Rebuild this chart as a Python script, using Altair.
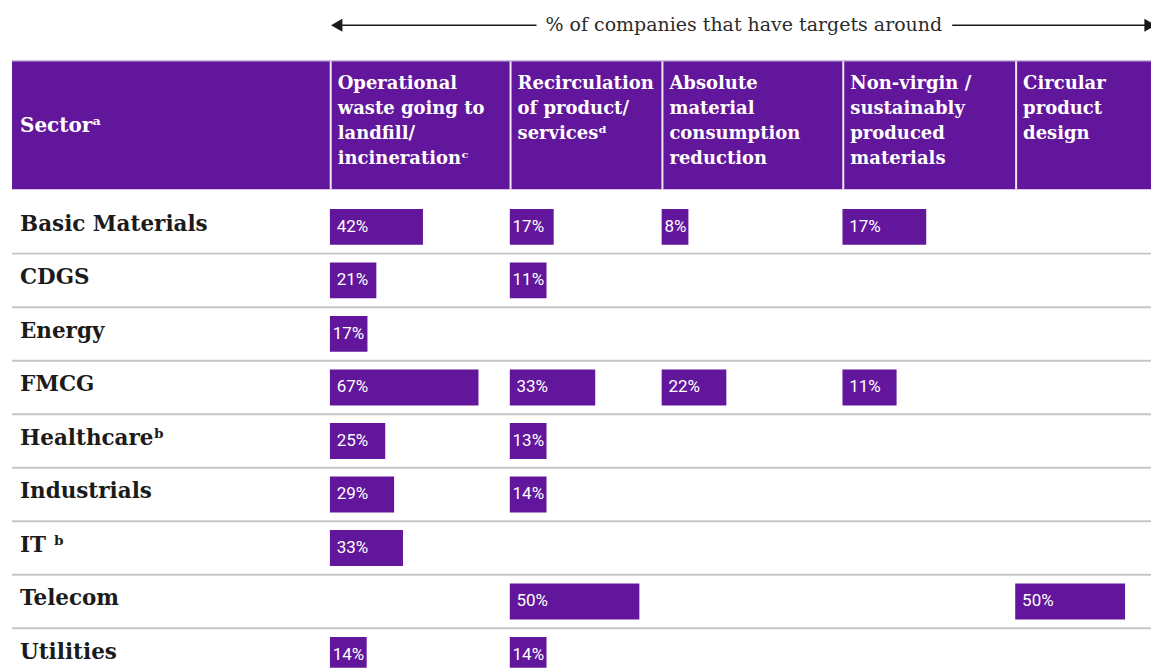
import altair as alt
import pandas as pd

# ---------------- data ----------------
sectors = ["Basic Materials", "CDGS", "Energy", "FMCG", "Healthcare",
           "Industrials", "IT", "Telecom", "Utilities"]
sector_labels = ["Basic Materials", "CDGS", "Energy", "FMCG", "Healthcareᵇ",
                 "Industrials", "IT ᵇ", "Telecom", "Utilities"]
sector_header = "Sectorᵃ"
title_text = "% of companies that have targets around"

headers = [
    "Operational\nwaste going to\nlandfill/\nincinerationᶜ",
    "Recirculation\nof product/\nservicesᵈ",
    "Absolute\nmaterial\nconsumption\nreduction",
    "Non-virgin /\nsustainably\nproduced\nmaterials",
    "Circular\nproduct\ndesign",
]

operational_waste = [42, 21, 17, 67, 25, 29, 33, None, 14]
recirculation = [17, 11, None, 33, 13, 14, None, 50, 14]
absolute_reduction = [8, None, None, 22, None, None, None, None, None]
non_virgin = [17, None, None, 11, None, None, None, None, None]
circular_design = [None, None, None, None, None, None, None, 50, None]
series = [operational_waste, recirculation, absolute_reduction, non_virgin, circular_design]

# ---------------- style / layout ----------------
PURPLE = "#62169b"
SERIF = "DejaVu Serif"
col_widths = [180, 152, 181, 173, 136]
col_domains = [81, 58.5, 61.3, 35, 61.8]
MIN_BAR_PX = {2: 27, 3: 37}     # minimum bar width so the label fits
WIDE_BAR_PX = 45                # bars narrower than this get a tight label pad
PAD_WIDE, PAD_TIGHT = 7, 3

yscale = alt.Scale(type="band", domain=sectors, range=[200, 682],
                   paddingInner=0, paddingOuter=0)
Y = alt.Y("sector:N", scale=yscale, axis=None)
Y_end = alt.Y("sector:N", scale=yscale, axis=None, bandPosition=1)

one = pd.DataFrame({"t": [title_text]})
sec_df = pd.DataFrame({"sector": sectors, "label": sector_labels})
sep_df = sec_df.iloc[:-1]

# ---------------- sector panel (also draws the shared decorations) ----------------
header_bg = alt.Chart(pd.DataFrame({"t": [sector_header]})).mark_rect(color=PURPLE).encode(
    x=alt.value(12), x2=alt.value(1152), y=alt.value(61), y2=alt.value(189))
header_top = alt.Chart(one).mark_rule(color="#b9a7d1", strokeWidth=1).encode(
    x=alt.value(12), x2=alt.value(1152), y=alt.value(60.5))
sector_head = alt.Chart(pd.DataFrame({"t": [sector_header]})).mark_text(
    align="left", baseline="middle", font=SERIF, fontWeight="bold", fontSize=20,
    color="white").encode(x=alt.value(20), y=alt.value(126), text="t:N")

separators = alt.Chart(sep_df).mark_rule(color="#c6c6c6", strokeWidth=2).encode(
    y=Y_end, x=alt.value(12), x2=alt.value(1152))
sector_text = alt.Chart(sec_df).mark_text(
    align="left", baseline="middle", dy=-2, font=SERIF, fontWeight="bold",
    fontSize=21.5, color="#1b1b1b").encode(y=Y, x=alt.value(20), text="label:N")

left_line = alt.Chart(one).mark_rule(color="#1a1a1a", strokeWidth=1.5).encode(
    x=alt.value(340), x2=alt.value(537), y=alt.value(25))
left_head = alt.Chart(one).mark_point(shape="triangle-left", filled=True, size=170,
                                      color="#1a1a1a", opacity=1).encode(
    x=alt.value(337), y=alt.value(25))
right_line = alt.Chart(one).mark_rule(color="#1a1a1a", strokeWidth=1.5).encode(
    x=alt.value(953), x2=alt.value(1148), y=alt.value(25))
title = alt.Chart(one).mark_text(align="center", baseline="middle", font=SERIF,
                                 fontSize=19, color="#2b2b2b").encode(
    x=alt.value(744.5), y=alt.value(25), text="t:N")

sector_panel = alt.layer(
    header_bg, header_top, sector_head, separators, sector_text,
    left_line, left_head, right_line, title
).properties(width=330, height=668)


# ---------------- column panels ----------------
def column_panel(i):
    W, D = col_widths[i], col_domains[i]
    upp = D / W  # data units per pixel in this column
    df = pd.DataFrame({"sector": sectors, "value": series[i]}).dropna()
    df["label"] = df["value"].map(lambda v: f"{int(v)}%")
    min_units = df["label"].map(lambda s: MIN_BAR_PX[len(s)] * upp)
    df["bar_end"] = df["value"].where(df["value"] >= min_units, min_units)
    df["label_x"] = df["bar_end"].map(
        lambda e: (PAD_WIDE if e / upp >= WIDE_BAR_PX else PAD_TIGHT) * upp)
    xscale = alt.Scale(domain=[0, D], nice=False)
    base = alt.Chart(df)
    bars = base.mark_bar(size=36, color=PURPLE, clip=True).encode(
        y=Y, x=alt.X("bar_end:Q", scale=xscale, axis=None))
    labels = base.mark_text(align="left", baseline="middle", color="white",
                            font="Roboto", fontSize=17).encode(
        y=Y, x=alt.X("label_x:Q", scale=xscale, axis=None), text="label:N")
    hdr = pd.DataFrame({"t": [headers[i]]})
    divider = alt.Chart(hdr).mark_rule(color="white", strokeWidth=2, opacity=0.9).encode(
        x=alt.value(1), y=alt.value(61), y2=alt.value(189))
    htext = alt.Chart(hdr).mark_text(
        align="left", baseline="alphabetic", lineBreak="\n", lineHeight=25,
        font=SERIF, fontWeight="bold", fontSize=18, color="white").encode(
        x=alt.value(8), y=alt.value(89), text="t:N")
    layers = [divider, htext, bars, labels]
    if i == 4:
        layers.append(
            alt.Chart(hdr).mark_point(shape="triangle-right", filled=True, size=170,
                                      color="#1a1a1a", opacity=1, clip=True).encode(
                x=alt.value(W - 1), y=alt.value(25)))
    return alt.layer(*layers).properties(width=W, height=668)


chart = alt.hconcat(
    sector_panel, *[column_panel(i) for i in range(5)],
    spacing=0, bounds="flush"
).properties(
    padding=0, background="white"
).configure_view(strokeWidth=0)

chart.save("out.html", embed_options={"renderer": "svg", "actions": False})
